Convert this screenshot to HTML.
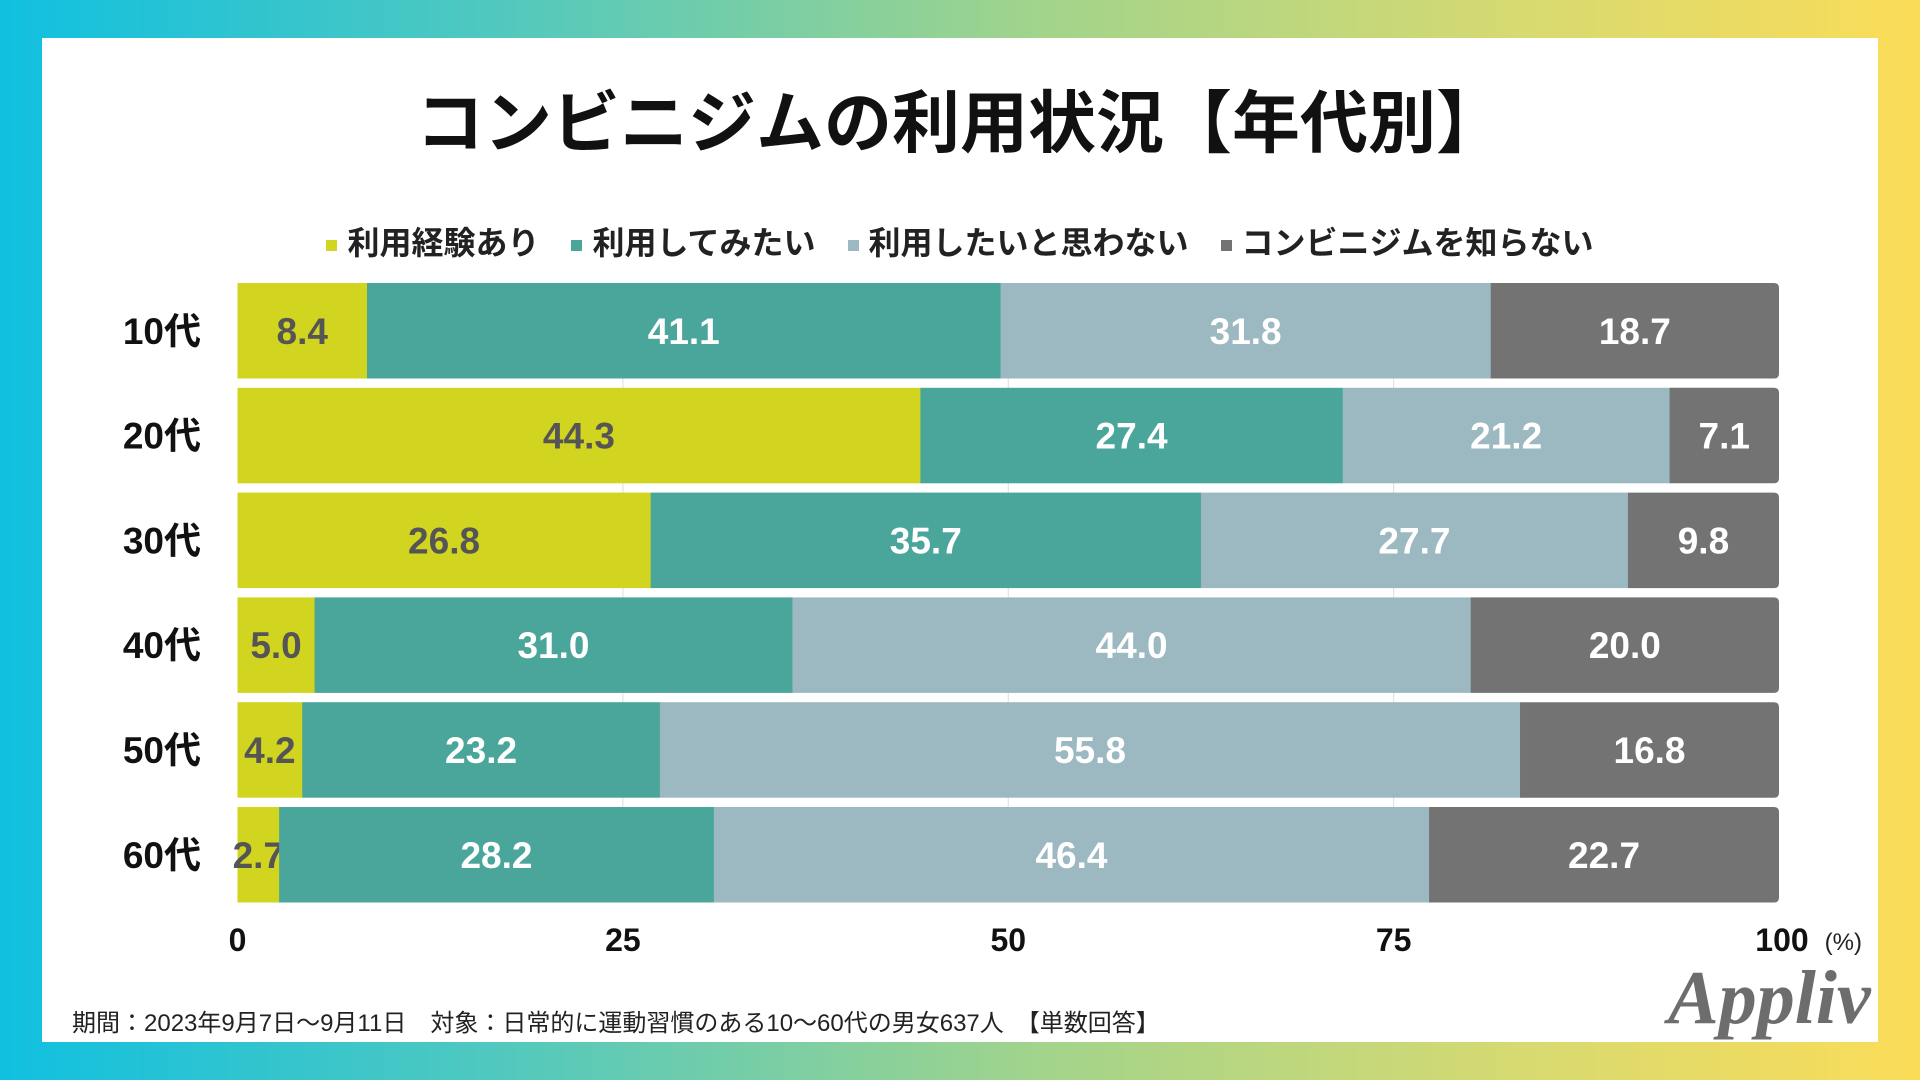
<!DOCTYPE html>
<html><head><meta charset="utf-8"><style>
body{margin:0;width:1920px;height:1080px;overflow:hidden;font-family:"Liberation Sans","Noto Sans CJK JP",sans-serif;}
#bg{position:absolute;left:0;top:0;width:1920px;height:1080px;background:linear-gradient(90deg,#10c0e0 0%,#4ec8c0 25%,#a4d48a 55%,#d8da70 80%,#fbdc58 100%);}
#panel{position:absolute;left:42px;top:38px;width:1836px;height:1004px;background:#fff;}
#title{position:absolute;left:0;top:68px;width:1920px;text-align:center;font-size:68px;font-weight:bold;color:#111;}
#legend{position:absolute;left:0;top:218px;width:1920px;text-align:center;font-size:32px;font-weight:bold;color:#222;}
.lg{display:inline-block;margin:0 16px;}
.sw{display:inline-block;width:11px;height:11px;margin-right:10px;vertical-align:middle;}
#foot{position:absolute;left:72px;top:1003px;font-size:24px;color:#222;}
#logo{position:absolute;left:1668px;top:955px;font-family:"Liberation Serif",serif;font-style:italic;font-weight:bold;font-size:76px;color:#6d6d6d;}
svg{position:absolute;left:0;top:0;}
</style></head><body>
<div id="bg"></div>
<div id="panel"></div>
<div id="title">コンビニジムの利用状況【年代別】</div>
<div id="legend">
<span class="lg"><span class="sw" style="background:#d2d520"></span>利用経験あり</span><span class="lg"><span class="sw" style="background:#4aa69b"></span>利用してみたい</span><span class="lg"><span class="sw" style="background:#9cb9c2"></span>利用したいと思わない</span><span class="lg"><span class="sw" style="background:#737373"></span>コンビニジムを知らない</span>
</div>
<svg id="chart" width="1920" height="1080"></svg>
<div id="foot">期間：2023年9月7日～9月11日　対象：日常的に運動習慣のある10～60代の男女637人　【単数回答】</div>
<div id="logo">Appliv</div>
<script>
const categories=["10代","20代","30代","40代","50代","60代"];
const experienced=[8.4,44.3,26.8,5.0,4.2,2.7];
const wantToUse=[41.1,27.4,35.7,31.0,23.2,28.2];
const notWant=[31.8,21.2,27.7,44.0,55.8,46.4];
const unknown=[18.7,7.1,9.8,20.0,16.8,22.7];
const ticks=[0,25,50,75,100];
const series=[experienced,wantToUse,notWant,unknown];
const names=["experienced","want-to-use","not-want","unknown"];
const colors=["#d2d520","#4aa69b","#9cb9c2","#737373"];
const textColors=["#555","#fff","#fff","#fff"];
const X0=237.5,X1=1779,Y0=283,STEP=104.8,BH=95.5;
const xs=v=>X0+(X1-X0)*v/100;
const ys=i=>Y0+i*STEP;
const svg=document.getElementById('chart');
const NS="http://www.w3.org/2000/svg";
function mk(t,a){const e=document.createElementNS(NS,t);for(const k in a)e.setAttribute(k,a[k]);svg.appendChild(e);return e;}
ticks.forEach(t=>{
  if(t>0&&t<100){const g=mk('line',{x1:xs(t),x2:xs(t),y1:Y0,y2:ys(categories.length-1)+BH,stroke:'#ddd','stroke-width':1});
  
  }
  const tx=mk('text',{x:xs(t)+(t===100?3:0),y:951,'text-anchor':'middle','font-size':32,'font-weight':'bold',fill:'#111'});
  tx.textContent=t;
  
  
});
const pc=mk('text',{x:1862,y:950,'text-anchor':'end','font-size':24,fill:'#222'});pc.textContent='(%)';


categories.forEach((c,i)=>{
  const y=ys(i);
  const lb=mk('text',{x:201,y:y+BH/2+13,'text-anchor':'end','font-size':37,'font-weight':'bold',fill:'#111'});lb.textContent=c;
  
  
  let acc=0;
  series.forEach((s,k)=>{
    const v=s[i],x=xs(acc),w=xs(acc+v)-xs(acc);
    let r;
    if(k===3){r=mk('path',{d:`M${x},${y}h${w-5}q5,0 5,5v${BH-10}q0,5 -5,5h${-(w-5)}z`,fill:colors[k]});}
    else r=mk('rect',{x:x,y:y,width:w+0.5,height:BH,fill:colors[k]});
    
    
    const t=mk('text',{x:x+w/2,y:y+BH/2+13,'text-anchor':'middle','font-size':37,'font-weight':'bold',fill:textColors[k]});
    t.textContent=v.toFixed(1);
    
    
    acc+=v;
  });
});
</script>
</body></html>
